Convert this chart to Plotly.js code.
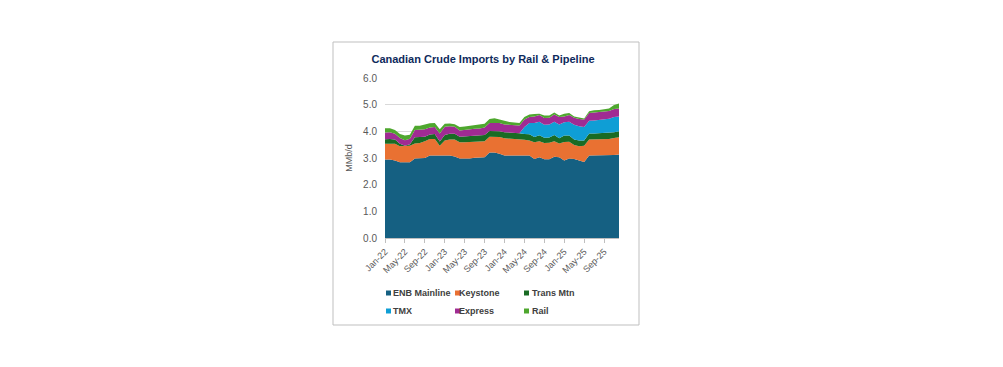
<!DOCTYPE html>
<html>
<head>
<meta charset="utf-8">
<script src="https://cdn.plot.ly/plotly-3.0.1.min.js"></script>
<style>
  html, body { margin: 0; padding: 0; background: #ffffff; }
  #chart { width: 1003px; height: 367px; }
</style>
</head>
<body>
<div id="chart"></div>
<script>
// ---- Data (MMb/d), monthly Jan-22 .. Dec-25 ----
const months = [
  "Jan-22","Feb-22","Mar-22","Apr-22","May-22","Jun-22","Jul-22","Aug-22","Sep-22","Oct-22","Nov-22","Dec-22",
  "Jan-23","Feb-23","Mar-23","Apr-23","May-23","Jun-23","Jul-23","Aug-23","Sep-23","Oct-23","Nov-23","Dec-23",
  "Jan-24","Feb-24","Mar-24","Apr-24","May-24","Jun-24","Jul-24","Aug-24","Sep-24","Oct-24","Nov-24","Dec-24",
  "Jan-25","Feb-25","Mar-25","Apr-25","May-25","Jun-25","Jul-25","Aug-25","Sep-25","Oct-25","Nov-25","Dec-25"
];
const tickLabels = ["Jan-22","May-22","Sep-22","Jan-23","May-23","Sep-23","Jan-24","May-24","Sep-24","Jan-25","May-25","Sep-25"];

const enbMainline = [2.94,2.94,2.91,2.84,2.84,2.84,2.98,2.98,3.00,3.09,3.09,3.09,
                     3.09,3.09,3.06,2.98,2.98,2.98,3.01,3.03,3.03,3.21,3.21,3.16,
                     3.09,3.09,3.09,3.09,3.09,3.09,2.96,3.03,2.95,2.95,3.05,3.03,
                     2.91,2.98,2.96,2.91,2.85,3.09,3.09,3.09,3.09,3.09,3.11,3.13];
const keystone    = [0.59,0.60,0.62,0.60,0.60,0.62,0.56,0.58,0.63,0.62,0.62,0.37,
                     0.57,0.60,0.63,0.61,0.61,0.62,0.60,0.60,0.60,0.59,0.59,0.63,
                     0.65,0.64,0.62,0.61,0.59,0.57,0.63,0.60,0.61,0.62,0.58,0.51,
                     0.69,0.63,0.53,0.53,0.61,0.60,0.60,0.60,0.61,0.62,0.64,0.65];
const transMtn    = [0.17,0.17,0.16,0.09,0.02,0.06,0.24,0.23,0.17,0.17,0.19,0.16,
                     0.20,0.22,0.22,0.21,0.22,0.22,0.22,0.22,0.23,0.21,0.21,0.21,
                     0.23,0.23,0.23,0.23,0.22,0.23,0.20,0.22,0.20,0.20,0.23,0.20,
                     0.24,0.23,0.20,0.22,0.20,0.23,0.23,0.24,0.23,0.23,0.22,0.22];
const tmx         = [0,0,0,0,0,0,0,0,0,0,0,0,
                     0,0,0,0,0,0,0,0,0,0,0,0,
                     0,0,0,0,0.26,0.42,0.52,0.51,0.49,0.49,0.50,0.52,
                     0.50,0.52,0.56,0.53,0.50,0.48,0.49,0.50,0.53,0.53,0.57,0.56];
const express     = [0.26,0.26,0.22,0.22,0.21,0.20,0.27,0.27,0.28,0.26,0.26,0.30,
                     0.31,0.28,0.26,0.23,0.25,0.26,0.27,0.26,0.28,0.30,0.31,0.31,
                     0.29,0.29,0.30,0.29,0.28,0.23,0.25,0.25,0.25,0.25,0.27,0.28,
                     0.22,0.25,0.26,0.27,0.28,0.29,0.30,0.29,0.29,0.29,0.30,0.30];
const rail        = [0.16,0.15,0.14,0.15,0.17,0.15,0.16,0.15,0.18,0.16,0.15,0.16,
                     0.11,0.10,0.10,0.13,0.12,0.12,0.14,0.14,0.14,0.15,0.17,0.13,
                     0.13,0.10,0.09,0.09,0.10,0.09,0.09,0.05,0.09,0.08,0.08,0.05,
                     0.10,0.08,0.05,0.05,0.04,0.06,0.08,0.08,0.08,0.10,0.15,0.18];

const seriesNames  = ["ENB Mainline","Keystone","Trans Mtn","TMX","Express","Rail"];
const seriesValues = [enbMainline, keystone, transMtn, tmx, express, rail];
const seriesColors = ["#156082","#E97132","#196B24","#0F9ED5","#A02B93","#4EA72E"];

// ---- Layout geometry (pixels) ----
const W = 1003, H = 367;
const M = {l: 385, r: 384, t: 78, b: 129};
const plotW = W - M.l - M.r, plotH = H - M.t - M.b;
const px = v => (v - M.l) / plotW;
const py = v => (H - M.b - v) / plotH;

const traces = seriesNames.map((name, i) => ({
  type: "scatter",
  mode: "lines",
  name: name,
  x: months,
  y: seriesValues[i],
  stackgroup: "one",
  fillcolor: seriesColors[i],
  line: {width: 0, color: seriesColors[i]},
  hoverinfo: "x+y+name"
}));

// Legend layout (custom, 3 columns x 2 rows)
const legCols = [386, 455, 524];
const legTextX = [393, 459, 532];
const legRows = [293, 311];
const shapes = [{
  type: "rect", xref: "paper", yref: "paper",
  x0: px(333), x1: px(639), y0: py(325), y1: py(42),
  line: {color: "#BFBFBF", width: 1}, fillcolor: "rgba(0,0,0,0)", layer: "below"
}];
const annotations = [];
seriesNames.forEach((name, i) => {
  const c = i % 3, r = Math.floor(i / 3);
  const cx = legCols[c], cy = legRows[r];
  shapes.push({
    type: "rect", xref: "paper", yref: "paper",
    x0: px(cx), x1: px(cx + 5), y0: py(cy + 2.5), y1: py(cy - 2.5),
    line: {width: 0}, fillcolor: seriesColors[i]
  });
  annotations.push({
    xref: "paper", yref: "paper", x: px(legTextX[c] - 2), y: py(cy),
    xanchor: "left", yanchor: "middle", showarrow: false,
    text: "<b>" + name + "</b>",
    font: {family: "Liberation Sans, Arial, sans-serif", size: 9, color: "#404040"}
  });
});

const layout = {
  width: W, height: H,
  margin: M,
  paper_bgcolor: "#ffffff",
  plot_bgcolor: "#ffffff",
  showlegend: false,
  title: {
    text: "<b>Canadian Crude Imports by Rail & Pipeline</b>",
    x: 483 / W, xanchor: "center", xref: "container",
    y: 1 - 59 / H, yanchor: "middle", yref: "container",
    font: {family: "Liberation Sans, Arial, sans-serif", size: 11, color: "#0E2A5C"}
  },
  xaxis: {
    type: "category",
    range: [0, months.length - 1],
    tickmode: "array",
    tickvals: tickLabels,
    ticktext: tickLabels,
    tickangle: -45,
    ticks: "outside", ticklen: 4, tickcolor: "#BFBFBF",
    showline: true, linecolor: "#BFBFBF", linewidth: 1,
    showgrid: false, zeroline: false,
    tickfont: {family: "Liberation Sans, Arial, sans-serif", size: 9, color: "#595959"},
    fixedrange: true
  },
  yaxis: {
    range: [0, 6],
    dtick: 1, tick0: 0,
    tickformat: ".1f",
    ticks: "outside", ticklen: 5, tickcolor: "rgba(0,0,0,0)",
    showgrid: true, gridcolor: "#D9D9D9", gridwidth: 1,
    zeroline: false, showline: false,
    tickfont: {family: "Liberation Sans, Arial, sans-serif", size: 10, color: "#595959"},
    title: {
      text: "MMb/d", standoff: 8,
      font: {family: "Liberation Sans, Arial, sans-serif", size: 9, color: "#595959"}
    },
    fixedrange: true
  },
  shapes: shapes,
  annotations: annotations
};

Plotly.newPlot("chart", traces, layout, {displayModeBar: false, staticPlot: true});
</script>
</body>
</html>
